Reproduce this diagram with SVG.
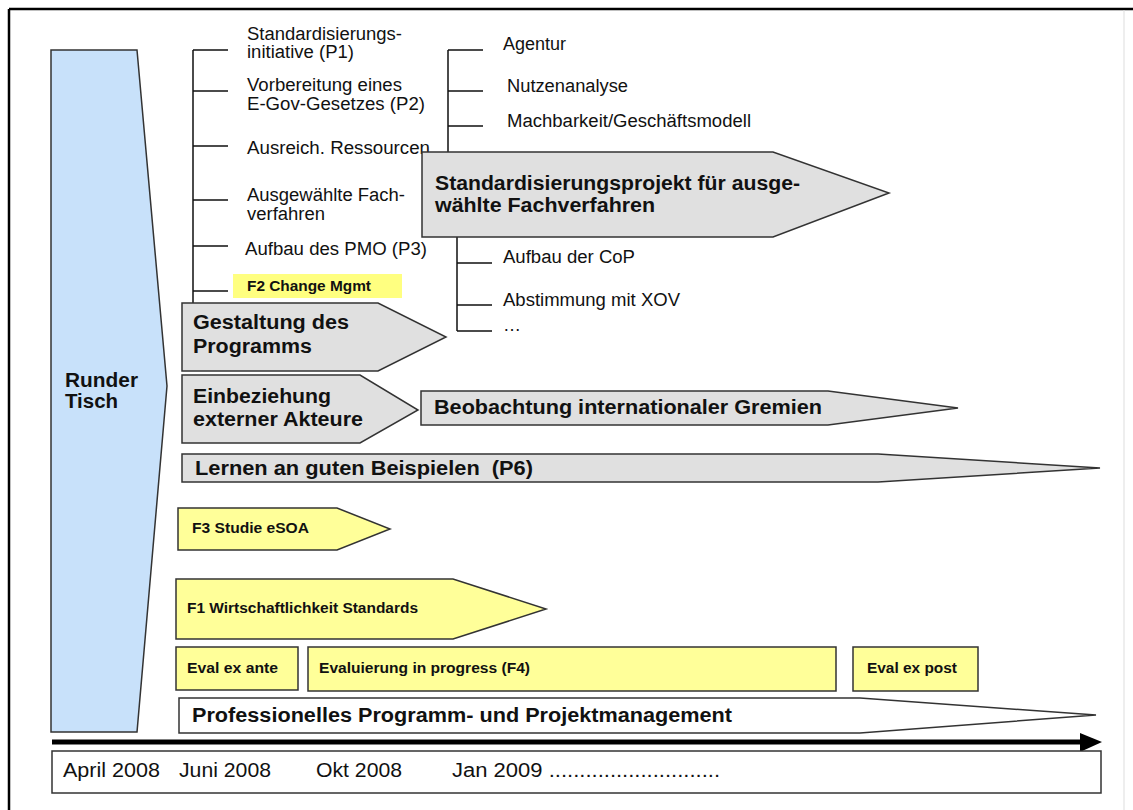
<svg xmlns="http://www.w3.org/2000/svg" width="1133" height="810" viewBox="0 0 1133 810">
<style>
text{font-family:"Liberation Sans",Arial,sans-serif;fill:#111}
.r{font-size:18px}
.b{font-size:20px;font-weight:bold}
.s{font-size:14px;font-weight:bold}
.d{font-size:20px}
.gray{fill:#e0e0e0;stroke:#333;stroke-width:1.5}
.yel{fill:#ffff99;stroke:#333;stroke-width:1.5}
.wht{fill:#fff;stroke:#333;stroke-width:1.5}
.tree{stroke:#111;stroke-width:1.5;fill:none}
</style>
<rect width="1133" height="810" fill="#fff"/>
<g id="frame">
<line x1="9" y1="9" x2="1133" y2="9" stroke="#000" stroke-width="2.5"/>
<line x1="9" y1="9" x2="9" y2="810" stroke="#000" stroke-width="2.5"/>
<line x1="1124" y1="10" x2="1124" y2="810" stroke="#ddd" stroke-width="1"/>
</g>
<g id="runder-tisch">
<polygon points="51,50 137,50 167,386 137,732 51,732" fill="#c8e1fa" stroke="#333" stroke-width="1.5"/>
<text class="b" x="65" y="387" textLength="73" lengthAdjust="spacingAndGlyphs">Runder</text>
<text class="b" x="65" y="408" textLength="53" lengthAdjust="spacingAndGlyphs">Tisch</text>
</g>
<g id="connectors" class="tree">
<path d="M193,50 V303 M193,50 H228 M193,91 H228 M193,146 H228 M193,200 H228 M193,246 H228 M193,291 H228"/>
<path d="M448,50 V152 M448,50 H483 M448,91 H483 M448,126 H483"/>
<path d="M457,237 V331 M457,263 H492 M457,305 H492 M457,331 H492"/>
</g>
<g id="left-items">
<text class="r" x="247" y="40" textLength="155" lengthAdjust="spacingAndGlyphs">Standardisierungs-</text>
<text class="r" x="247" y="58" textLength="107" lengthAdjust="spacingAndGlyphs">initiative (P1)</text>
<text class="r" x="247" y="91" textLength="155" lengthAdjust="spacingAndGlyphs">Vorbereitung eines</text>
<text class="r" x="247" y="110" textLength="178" lengthAdjust="spacingAndGlyphs">E-Gov-Gesetzes (P2)</text>
<text class="r" x="247" y="154" textLength="183" lengthAdjust="spacingAndGlyphs">Ausreich. Ressourcen</text>
<text class="r" x="247" y="201" textLength="158" lengthAdjust="spacingAndGlyphs">Ausgewählte Fach-</text>
<text class="r" x="247" y="220" textLength="78" lengthAdjust="spacingAndGlyphs">verfahren</text>
<text class="r" x="245" y="255" textLength="182" lengthAdjust="spacingAndGlyphs">Aufbau des PMO (P3)</text>
</g>
<g id="f2-change">
<rect x="233" y="274" width="169" height="24" fill="#ffff80"/>
<text class="s" x="247" y="291" textLength="124" lengthAdjust="spacingAndGlyphs">F2 Change Mgmt</text>
</g>
<g id="right-items">
<text class="r" x="503" y="50" textLength="63" lengthAdjust="spacingAndGlyphs">Agentur</text>
<text class="r" x="507" y="92" textLength="121" lengthAdjust="spacingAndGlyphs">Nutzenanalyse</text>
<text class="r" x="507" y="127" textLength="244" lengthAdjust="spacingAndGlyphs">Machbarkeit/Geschäftsmodell</text>
<text class="r" x="503" y="263" textLength="132" lengthAdjust="spacingAndGlyphs">Aufbau der CoP</text>
<text class="r" x="503" y="306" textLength="177" lengthAdjust="spacingAndGlyphs">Abstimmung mit XOV</text>
<text class="r" x="503" y="331" font-size="14" fill="#666">…</text>
</g>
<g id="standardisierungsprojekt">
<polygon class="gray" points="422,152 773,152 889,193 773,237 422,237"/>
<text class="b" x="435" y="190" textLength="365" lengthAdjust="spacingAndGlyphs">Standardisierungsprojekt für ausge-</text>
<text class="b" x="435" y="212" textLength="220" lengthAdjust="spacingAndGlyphs">wählte Fachverfahren</text>
</g>
<g id="gestaltung">
<polygon class="gray" points="182,303 378,303 446,337 378,371 182,371"/>
<text class="b" x="193" y="329" textLength="156" lengthAdjust="spacingAndGlyphs">Gestaltung des</text>
<text class="b" x="193" y="353" textLength="119" lengthAdjust="spacingAndGlyphs">Programms</text>
</g>
<g id="einbeziehung">
<polygon class="gray" points="182,375 360,375 418,410 360,443 182,443"/>
<text class="b" x="193" y="403" textLength="138" lengthAdjust="spacingAndGlyphs">Einbeziehung</text>
<text class="b" x="193" y="426" textLength="170" lengthAdjust="spacingAndGlyphs">externer Akteure</text>
</g>
<g id="beobachtung">
<polygon class="gray" points="421,391 828,391 958,408 828,425 421,425"/>
<text class="b" x="434" y="414" textLength="388" lengthAdjust="spacingAndGlyphs">Beobachtung internationaler Gremien</text>
</g>
<g id="lernen">
<polygon class="gray" points="182,454 878,454 1100,468 878,482 182,482"/>
<text class="b" x="195" y="475" textLength="338" lengthAdjust="spacingAndGlyphs" xml:space="preserve">Lernen an guten Beispielen  (P6)</text>
</g>
<g id="f3-studie">
<polygon class="yel" points="178,508 337,508 390,529 337,550 178,550"/>
<text class="s" x="192" y="533" textLength="117" lengthAdjust="spacingAndGlyphs">F3 Studie eSOA</text>
</g>
<g id="f1-wirtschaftlichkeit">
<polygon class="yel" points="176,579 453,579 546,609 453,639 176,639"/>
<text class="s" x="187" y="613" textLength="231" lengthAdjust="spacingAndGlyphs">F1 Wirtschaftlichkeit Standards</text>
</g>
<g id="eval-ante">
<rect class="yel" x="176" y="647" width="122" height="43"/>
<text class="s" x="187" y="673" textLength="91" lengthAdjust="spacingAndGlyphs">Eval ex ante</text>
</g>
<g id="eval-progress">
<rect class="yel" x="308" y="647" width="528" height="44"/>
<text class="s" x="319" y="673" textLength="211" lengthAdjust="spacingAndGlyphs">Evaluierung in progress (F4)</text>
</g>
<g id="eval-post">
<rect class="yel" x="853" y="647" width="125" height="44"/>
<text class="s" x="867" y="673" textLength="90" lengthAdjust="spacingAndGlyphs">Eval ex post</text>
</g>
<g id="projektmanagement">
<polygon class="wht" points="179,698 860,698 1096,715 860,733 179,733"/>
<text class="b" x="192" y="722" textLength="540" lengthAdjust="spacingAndGlyphs">Professionelles Programm- und Projektmanagement</text>
</g>
<g id="timeline">
<line x1="52" y1="742" x2="1082" y2="742" stroke="#000" stroke-width="5"/>
<polygon points="1080,733 1102,742 1080,752" fill="#000"/>
</g>
<g id="dates">
<rect x="52" y="751" width="1049" height="42" fill="#fff" stroke="#333" stroke-width="1.5"/>
<text class="d" x="63" y="777" textLength="97" lengthAdjust="spacingAndGlyphs">April 2008</text>
<text class="d" x="179" y="777" textLength="92" lengthAdjust="spacingAndGlyphs">Juni 2008</text>
<text class="d" x="316" y="777" textLength="86" lengthAdjust="spacingAndGlyphs">Okt 2008</text>
<text class="d" x="452" y="777" textLength="268" lengthAdjust="spacingAndGlyphs">Jan 2009 ............................</text>
</g>
</svg>
